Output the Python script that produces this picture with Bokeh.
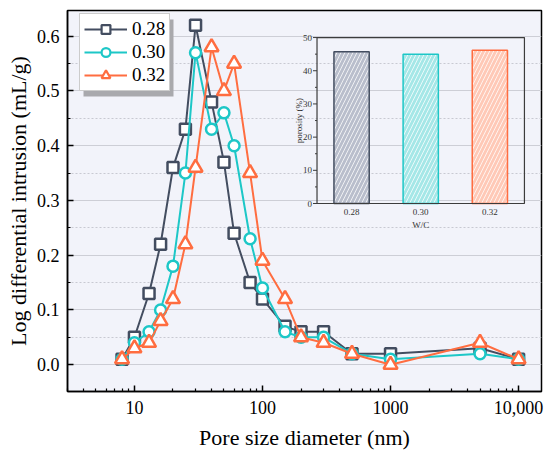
import math
from bokeh.plotting import figure
from bokeh.models import (Range1d, LinearScale, FixedTicker, PrintfTickFormatter,
                          Legend, LegendItem, BoxAnnotation)
from bokeh.core.properties import value
from bokeh.embed import file_html
from bokeh.resources import INLINE

# ---------------- data ----------------
pore_nm = [8, 10, 13, 16, 20, 25, 30, 40, 50, 60, 80, 100, 150, 200, 300, 500, 1000, 5000, 10000]
wc_028 = [0.01, 0.05, 0.13, 0.22, 0.36, 0.43, 0.62, 0.48, 0.37, 0.24, 0.15, 0.12, 0.07, 0.06, 0.06, 0.02, 0.02, 0.03, 0.01]
wc_030 = [0.01, 0.04, 0.06, 0.10, 0.18, 0.35, 0.57, 0.43, 0.46, 0.40, 0.23, 0.14, 0.06, 0.05, 0.05, 0.02, 0.01, 0.02, 0.01]
wc_032 = [0.01, 0.03, 0.04, 0.08, 0.12, 0.22, 0.36, 0.58, 0.50, 0.55, 0.35, 0.19, 0.12, 0.05, 0.04, 0.02, 0.00, 0.04, 0.01]
series_labels = ["0.28", "0.30", "0.32"]

x_ticks = [10, 100, 1000, 10000]
x_tick_labels = ["10", "100", "1000", "10,000"]
y_ticks = [0.0, 0.1, 0.2, 0.3, 0.4, 0.5, 0.6]
y_minor = [0.05, 0.15, 0.25, 0.35, 0.45, 0.55]

# inset data
wc_cats = ["0.28", "0.30", "0.32"]
porosity = [45.7, 45.0, 46.2]
inset_y_ticks = [0, 10, 20, 30, 40, 50]
inset_y_minor = [5, 15, 25, 35, 45]

# ---------------- styles ----------------
line_colors = ["#434D60", "#1DC7C7", "#FF6D40"]
bar_fill = ["#B9BECC", "#A5E7E7", "#FFC9B7"]
markers = ["square", "circle", "triangle"]
marker_sizes = [11, 11, 14]
legend_marker_sizes = [8, 9, 11]
SERIF = "Liberation Serif"
X_MIN, X_MAX = 3, 15100

p = figure(width=550, height=456, x_axis_type="log",
           x_range=Range1d(X_MIN, X_MAX), y_range=Range1d(-0.049, 0.647),
           output_backend="svg", toolbar_location=None,
           min_border_left=67, min_border_right=9, min_border_top=10, min_border_bottom=65)

p.background_fill_color = "#F2F3FA"
p.border_fill_color = "white"
p.outline_line_color = "black"
p.outline_line_width = 1.5

# axes
p.xaxis.ticker = FixedTicker(ticks=x_ticks,
                             minor_ticks=[m * 10 ** e for e in range(0, 5) for m in range(2, 10)])
p.xaxis.major_label_overrides = {t: l for t, l in zip(x_ticks, x_tick_labels)}
p.yaxis.ticker = FixedTicker(ticks=y_ticks, minor_ticks=y_minor)
p.yaxis.formatter = PrintfTickFormatter(format="%.1f")

for ax in (p.xaxis, p.yaxis):
    ax.axis_line_width = 1.5
    ax.axis_line_color = "black"
    ax.major_tick_in = 6
    ax.major_tick_out = 0
    ax.minor_tick_in = 3
    ax.minor_tick_out = 0
    ax.major_tick_line_width = 1.5
    ax.minor_tick_line_width = 1.2
    ax.major_label_text_font = SERIF
    ax.major_label_text_font_size = "18px"
    ax.major_label_text_color = "black"
    ax.axis_label_text_font = SERIF
    ax.axis_label_text_font_size = "22px"
    ax.axis_label_text_font_style = "normal"
    ax.axis_label_text_color = "black"

p.xaxis.major_label_standoff = 9
p.yaxis.major_label_standoff = 8
p.xaxis.axis_label = "Pore size diameter (nm)"
p.yaxis.axis_label = "Log differential intrusion (mL/g)"
p.xaxis.axis_label_standoff = 8
p.yaxis.axis_label_standoff = 3

p.xgrid.visible = False
p.ygrid.grid_line_color = "#CDCED6"
p.ygrid.grid_line_width = 1
p.ygrid.minor_grid_line_color = "#C8C9D2"
p.ygrid.minor_grid_line_dash = "2 2"

# ---------------- inset (drawn in extra ranges inside main frame) ----------------
fx0, fx1 = 0.5264, 0.964   # inset frame horizontal fractions of main frame
fy0, fy1 = 0.4934, 0.929   # inset frame vertical fractions of main frame
ncat = len(wc_cats)
span_x = ncat / (fx1 - fx0)
span_y = inset_y_ticks[-1] / (fy1 - fy0)
p.extra_x_ranges = {"inx": Range1d(-fx0 * span_x, -fx0 * span_x + span_x)}
p.extra_y_ranges = {"iny": Range1d(-fy0 * span_y, -fy0 * span_y + span_y)}
p.extra_x_scales = {"inx": LinearScale()}
p.extra_y_scales = {"iny": LinearScale()}

cat_x = [i + 0.5 for i in range(ncat)]
for i in range(ncat):
    p.vbar(x=[cat_x[i]], top=[porosity[i]], bottom=0, width=0.51,
           fill_color=bar_fill[i], line_color=line_colors[i], line_width=1.5,
           hatch_pattern="/", hatch_color="white", hatch_scale=8, hatch_weight=0.9,
           hatch_alpha=0.85,
           x_range_name="inx", y_range_name="iny")

# inset frame
p.quad(left=[0], right=[ncat], bottom=[0], top=[inset_y_ticks[-1]],
       fill_color=None, line_color="#3C3C3C", line_width=1.2,
       x_range_name="inx", y_range_name="iny")
# inset y ticks
p.ray(x=[0] * len(inset_y_ticks), y=inset_y_ticks, length=4, length_units="screen",
      angle=math.pi, line_color="#3C3C3C", line_width=1,
      x_range_name="inx", y_range_name="iny")
p.ray(x=[0] * len(inset_y_minor), y=inset_y_minor, length=2, length_units="screen",
      angle=math.pi, line_color="#3C3C3C", line_width=1,
      x_range_name="inx", y_range_name="iny")
p.text(x=[0] * len(inset_y_ticks), y=inset_y_ticks, text=[str(t) for t in inset_y_ticks],
       x_offset=-5, text_align="right", text_baseline="middle",
       text_font=value(SERIF), text_font_size="9px", text_color="#333333",
       x_range_name="inx", y_range_name="iny")
p.text(x=cat_x, y=[0] * ncat, text=wc_cats, y_offset=5,
       text_align="center", text_baseline="top",
       text_font=value(SERIF), text_font_size="9px", text_color="#333333",
       x_range_name="inx", y_range_name="iny")
p.text(x=[ncat / 2], y=[0], text=["W/C"], y_offset=16,
       text_align="center", text_baseline="top",
       text_font=value(SERIF), text_font_size="9px", text_color="#333333",
       x_range_name="inx", y_range_name="iny")
p.text(x=[0], y=[inset_y_ticks[-1] / 2], text=["porosity (%)"], x_offset=-18,
       angle=math.pi / 2, text_align="center", text_baseline="middle",
       text_font=value(SERIF), text_font_size="9px", text_color="#333333",
       x_range_name="inx", y_range_name="iny")

# ---------------- main series ----------------
items = []
for ys, lab, col, mk, ms, lms in zip([wc_028, wc_030, wc_032], series_labels, line_colors,
                                     markers, marker_sizes, legend_marker_sizes):
    p.line(pore_nm, ys, line_color=col, line_width=2)
    p.scatter(pore_nm, ys, marker=mk, size=ms, line_color=col, line_width=2.5, fill_color="white")
    # legend proxies (no visible data)
    lp = p.line([float("nan")], [float("nan")], line_color=col, line_width=2)
    sp = p.scatter([float("nan")], [float("nan")], marker=mk, size=lms,
                   line_color=col, line_width=2.2, fill_color="white")
    items.append(LegendItem(label=lab, renderers=[lp, sp]))

# legend shadow
LEG_X, LEG_Y, LEG_W, LEG_H = 12, 300, 90, 77
p.add_layout(BoxAnnotation(left=LEG_X + 4, right=LEG_X + 4 + LEG_W,
                           bottom=LEG_Y - 5, top=LEG_Y - 5 + LEG_H,
                           left_units="screen", right_units="screen",
                           bottom_units="screen", top_units="screen",
                           fill_color="#A9A9AD", fill_alpha=1, line_color=None))

legend = Legend(items=items, location=(LEG_X, LEG_Y))
legend.margin = 0
legend.padding = 4
legend.spacing = 1
legend.glyph_width = 43
legend.glyph_height = 22
legend.label_standoff = 5
legend.label_text_font = SERIF
legend.label_text_font_size = "19px"
legend.label_height = 20
legend.label_text_color = "black"
legend.border_line_color = "#9A9A9A"
legend.border_line_width = 1
legend.background_fill_color = "white"
legend.background_fill_alpha = 1
p.add_layout(legend)

open("out.html", "w").write(file_html(p, INLINE))
